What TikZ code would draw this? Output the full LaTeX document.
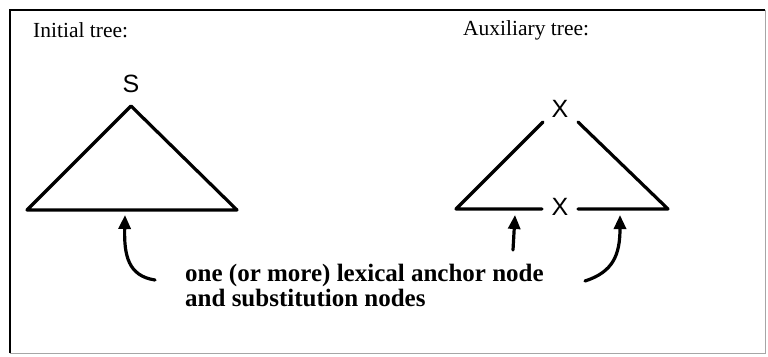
\documentclass[tikz,border=0pt]{standalone}
\usepackage{fontspec}
\setmainfont{Liberation Serif}
\newfontfamily\labsans{Liberation Sans}
\usetikzlibrary{arrows.meta}
\tikzset{
  treeline/.style={line width=3.2pt, line cap=round, line join=round},
  pointer/.style={line width=3.2pt, line cap=round, -{Triangle[length=14pt,width=12pt]}},
  sym/.style={font=\labsans\fontsize{25}{25}\selectfont, inner sep=0pt},
  title/.style={font=\fontsize{21.5}{21.5}\selectfont, inner sep=0pt, anchor=base west},
  note/.style={font=\bfseries\fontsize{25}{25}\selectfont, inner sep=0pt, align=left, anchor=north west}
}
\begin{document}
\begin{tikzpicture}[x=1pt,y=-1pt]
\useasboundingbox (0,0) rectangle (768,356);
% frame
\draw[line width=2pt, black] (10,353) -- (10,10) -- (765,10);
\draw[line width=1pt, black!35] (765,10) -- (765,353) -- (10,353);
% titles
\node[title] (t1) at (33,37) {Initial tree:};
\node[title] (t2) at (463,35) {Auxiliary tree:};
% initial tree
\node[sym] (S) at (131,84) {S};
\coordinate (sa) at (131,106);
\coordinate (sl) at (27,210);
\coordinate (sr) at (237,210);
\draw[treeline] (sl) -- (sa) -- (sr) -- cycle;
% auxiliary tree
\node[sym] (Xt) at (560,109) {X};
\node[sym] (Xb) at (560,207) {X};
\coordinate (al) at (456,209);
\coordinate (ar) at (668,209);
\coordinate (au1) at (543,122);
\coordinate (au2) at (578,122);
\draw[treeline] (au1) -- (al) -- (542,209);
\draw[treeline] (au2) -- (ar) -- (578,209);
% note text
\node[note] (txt) at (185,264) {one (or more) lexical anchor node\\and substitution nodes};
% pointers
\coordinate (p1) at (155,280);
\coordinate (q1) at (125,215);
\coordinate (p2) at (513,250);
\coordinate (q2) at (515,215);
\coordinate (p3) at (585,281);
\coordinate (q3) at (620,215);
\draw[pointer] (p1) .. controls (128,276) and (124,255) .. (q1);
\draw[pointer] (p2) -- (q2);
\draw[pointer] (p3) .. controls (613,272) and (620,255) .. (q3);
\end{tikzpicture}
\end{document}
